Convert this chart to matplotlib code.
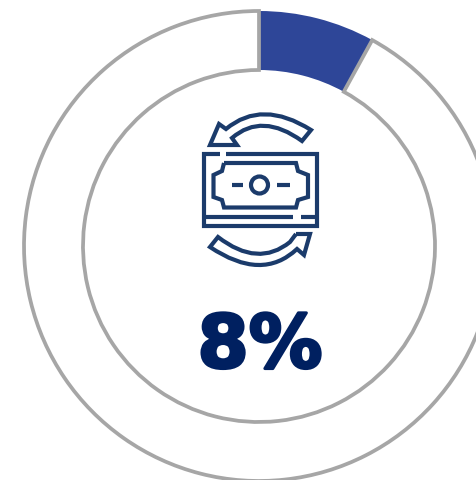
import matplotlib
matplotlib.use("Agg")
import matplotlib.pyplot as plt
import matplotlib.patheffects as pe
from matplotlib.path import Path
from matplotlib.patches import PathPatch, Circle

# Donut share
share_labels = ["Share", "Remainder"]
share_values = [8, 92]
headline = "8%"

WIDTH, HEIGHT = 477, 481
BLUE = "#2E4698"
GREY = "#A6A6A6"
NAVY = "#002060"
ICON = "#1B3B6B"
ICON_LW = 3.0

fig = plt.figure(figsize=(WIDTH / 100, HEIGHT / 100), dpi=100)
ax = fig.add_axes([0, 0, 1, 1])

# Ring: the coloured slice sits under the outlined remainder
centre = (259, HEIGHT - 247)
wedges, _ = ax.pie(share_values, radius=235, center=centre, startangle=90,
                   counterclock=False, labels=None,
                   wedgeprops=dict(width=59, linewidth=0))
wedges[0].set_facecolor(BLUE)
wedges[0].set_zorder(1)
wedges[1].set_facecolor("white")
wedges[1].set_edgecolor(GREY)
wedges[1].set_linewidth(2.7)
wedges[1].set_zorder(2)
ax.set_xlim(0, WIDTH)
ax.set_ylim(0, HEIGHT)
ax.set_aspect("equal")
ax.axis("off")


def pt(x, y):
    """Icon outline coordinates, measured from the top-left corner."""
    return (x, HEIGHT - y)


def stroke(points, codes=None, lw=ICON_LW):
    verts = [pt(*p) for p in points]
    if codes is None:
        codes = [Path.MOVETO] + [Path.LINETO] * (len(verts) - 1)
    ax.add_patch(PathPatch(Path(verts, codes), fill=False, edgecolor=ICON,
                           linewidth=lw, capstyle="butt", joinstyle="miter",
                           zorder=4))


M, L, C = Path.MOVETO, Path.LINETO, Path.CURVE3

# Banknote frame, with its two small gaps
stroke([(220, 154.5), (204.5, 154.5), (204.5, 226.5), (317, 226.5), (317, 154.5), (226, 154.5)])
stroke([(204.5, 217.5), (293, 217.5)])
stroke([(301, 217.5), (317, 217.5)])

# Note face with notched corners
stroke([(224, 164), (296, 164), (298, 172), (308, 176), (308, 198), (298, 201),
        (296, 208.5), (224, 208.5), (222, 201), (213.5, 198), (213.5, 176), (222, 172),
        (224, 164)])
ax.add_patch(Circle(pt(259.5, 186), 8.5, fill=False, edgecolor=ICON,
                    linewidth=ICON_LW, zorder=4))
stroke([(232, 186), (243, 186)])
stroke([(277, 186), (290, 186)])

# Upper arrow, pointing left
stroke([(220, 146), (210, 146), (219, 125), (226, 130),
        (262, 100), (311, 131), (302, 142),
        (262, 113), (232, 139), (237, 146), (220, 146)],
       [M, L, L, L, C, C, L, C, C, L, L])

# Lower arrow, pointing right
stroke([(296, 235), (310, 235), (304, 256), (297, 250),
        (262, 283), (210, 248), (218, 238),
        (258, 269), (290, 243), (296, 235)],
       [M, L, L, L, C, C, L, C, C, L])

ax.text(260, HEIGHT - 348, headline, ha="center", va="center", color=NAVY,
        fontsize=53, fontweight="bold", family="DejaVu Sans", zorder=5,
        path_effects=[pe.withStroke(linewidth=2.2, foreground=NAVY)])

fig.savefig("out.png", dpi=100)
